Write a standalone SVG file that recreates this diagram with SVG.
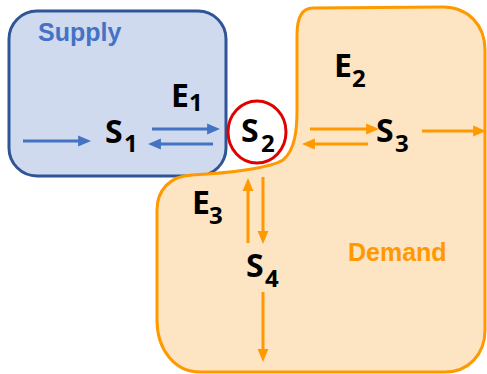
<svg xmlns="http://www.w3.org/2000/svg" width="487" height="374" viewBox="0 0 487 374">
<style>
.lbl{font-family:"Open Sans","Liberation Sans",sans-serif;font-weight:bold;font-size:32px;fill:#000}
.sub{font-size:24px}
.title{font-family:"Liberation Sans",Arial,sans-serif;font-weight:bold;font-size:25px}
.ab{stroke:#4472C4;stroke-width:3;fill:none;marker-end:url(#hb)}
.ao{stroke:#FF9900;stroke-width:3;fill:none;marker-end:url(#ho)}
</style>
<defs>
<marker id="hb" markerUnits="strokeWidth" markerWidth="4.3" markerHeight="3.6" refX="1.3" refY="1.8" orient="auto" overflow="visible"><path d="M0,0 L4.3,1.8 L0,3.6 Z" fill="#4472C4"/></marker>
<marker id="ho" markerUnits="strokeWidth" markerWidth="4.3" markerHeight="3.6" refX="1.3" refY="1.8" orient="auto" overflow="visible"><path d="M0,0 L4.3,1.8 L0,3.6 Z" fill="#FF9900"/></marker>
</defs>
<rect width="487" height="374" fill="#fff"/>
<g id="supply">
<rect x="9" y="11" width="217" height="165" rx="28" ry="28" fill="#CFDAEE" stroke="#2F5597" stroke-width="3"/>
<text class="title" x="38" y="41" fill="#4472C4">Supply</text>
</g>
<g id="demand">
<path d="M313,8 L443,7 C468,7 485,25 485,50 L485,330 C485,355 468,372 445,372 L200,372 C175,372 157,350 157,320 L157,210 C157,190 170,176 192,175 C230,173 270,168 283,160 C295,150 297,130 297,110 L297,35 C297,18 302,8 313,8 Z" fill="#FDE4C2" stroke="#FF9900" stroke-width="3"/>
<text class="title" x="348" y="261" fill="#FF9900">Demand</text>
</g>
<g id="S1"><text class="lbl" x="105" y="143">S<tspan class="sub" x="124" y="152">1</tspan></text></g>
<g id="E1"><text class="lbl" x="171" y="107">E<tspan class="sub" x="189" y="111">1</tspan></text></g>
<g id="S2">
<ellipse cx="257" cy="132" rx="29" ry="31" fill="#fff" stroke="#E00000" stroke-width="3"/>
<text class="lbl" x="241" y="142">S<tspan class="sub" x="261" y="152">2</tspan></text>
</g>
<g id="E2"><text class="lbl" x="334" y="77">E<tspan class="sub" x="352" y="87">2</tspan></text></g>
<g id="S3"><text class="lbl" x="376" y="142">S<tspan class="sub" x="395" y="152">3</tspan></text></g>
<g id="E3"><text class="lbl" x="192" y="214">E<tspan class="sub" x="209" y="224">3</tspan></text></g>
<g id="S4"><text class="lbl" x="246" y="277">S<tspan class="sub" x="265" y="287">4</tspan></text></g>
<g id="connectors">
<line class="ab" x1="23" y1="141" x2="82" y2="141"/>
<line class="ab" x1="152" y1="129" x2="211" y2="129"/>
<line class="ab" x1="213" y1="144" x2="157" y2="144"/>
<line class="ao" x1="310" y1="129" x2="370" y2="129"/>
<line class="ao" x1="368" y1="144" x2="311" y2="144"/>
<line class="ao" x1="422" y1="131" x2="477" y2="131"/>
<line class="ao" x1="248" y1="243" x2="248" y2="187"/>
<line class="ao" x1="263" y1="177" x2="263" y2="235"/>
<line class="ao" x1="263" y1="292" x2="263" y2="353"/>
</g>
</svg>
